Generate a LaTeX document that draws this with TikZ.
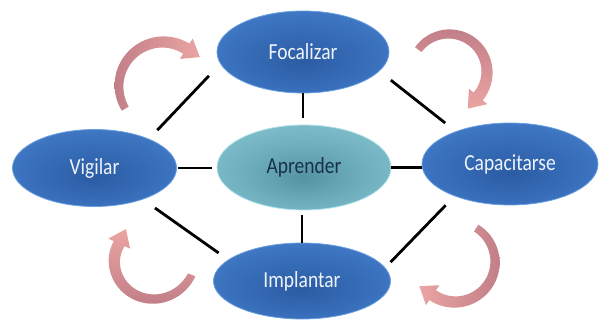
\documentclass[tikz,border=0pt]{standalone}
\usepackage{fontspec}
\usepackage{graphicx}
\setmainfont{Carlito}
\usetikzlibrary{shapes.geometric}

% palette
\definecolor{bluedark}{HTML}{2B5CA3}
\definecolor{bluemid}{HTML}{376DB9}
\definecolor{bluelight}{HTML}{4A85D0}
\definecolor{bluerim}{HTML}{6A9FE0}
\definecolor{tealdark}{HTML}{5593A2}
\definecolor{tealmid}{HTML}{70B0BE}
\definecolor{teallight}{HTML}{8BC8D4}
\definecolor{tealrim}{HTML}{B2E2EA}
\definecolor{arrowlight}{HTML}{EAA4A2}
\definecolor{arrowdark}{HTML}{C27F88}
\definecolor{labelwhite}{HTML}{EEF3FA}
\definecolor{labeldark}{HTML}{17324A}

\pgfdeclareradialshading{bluefill}{\pgfpoint{0bp}{-6bp}}{%
  color(0bp)=(bluedark); color(18bp)=(bluemid); color(40bp)=(bluelight);
  color(47bp)=(bluerim); color(50bp)=(bluerim)}
\pgfdeclareradialshading{tealfill}{\pgfpoint{0bp}{-6bp}}{%
  color(0bp)=(tealdark); color(18bp)=(tealmid); color(40bp)=(teallight);
  color(47bp)=(tealrim); color(50bp)=(tealrim)}

% label text, slightly stretched vertically
\newcommand\stagetext[1]{\scalebox{1}[1.18]{#1}}

% curved block arrow around (cx,cy):
% #2 cx, #3 cy, #4 radius at tail, #5 radius at head, #6 start angle, #7 end angle
\def\arrwa{8}\def\arrwb{12}\def\arrhw{12}\def\arrhl{16}
\newcommand\bendarrow[7][]{%
  \shade[cyclearrow,#1]
    plot[domain=#6:#7, samples=50, variable=\t]
      ({#2+(#4+(#5-#4)*(\t-(#6))/((#7)-(#6))+(\arrwa+(\arrwb-\arrwa)*(\t-(#6))/((#7)-(#6)))/2)*cos(\t)},
       {#3+(#4+(#5-#4)*(\t-(#6))/((#7)-(#6))+(\arrwa+(\arrwb-\arrwa)*(\t-(#6))/((#7)-(#6)))/2)*sin(\t)})
    -- ({#2+(#5+\arrhw)*cos(#7)}, {#3+(#5+\arrhw)*sin(#7)})
    -- ({#2+#5*cos(#7)-\arrhl*sin(#7)}, {#3+#5*sin(#7)+\arrhl*cos(#7)})
    -- ({#2+(#5-\arrhw)*cos(#7)}, {#3+(#5-\arrhw)*sin(#7)})
    -- plot[domain=#7:#6, samples=50, variable=\t]
      ({#2+(#4+(#5-#4)*(\t-(#6))/((#7)-(#6))-(\arrwa+(\arrwb-\arrwa)*(\t-(#6))/((#7)-(#6)))/2)*cos(\t)},
       {#3+(#4+(#5-#4)*(\t-(#6))/((#7)-(#6))-(\arrwa+(\arrwb-\arrwa)*(\t-(#6))/((#7)-(#6)))/2)*sin(\t)})
    -- cycle;
}

\tikzset{
  stage/.style={ellipse, inner sep=0pt, outer sep=0pt, shade, shading=bluefill,
    draw=bluerim, line width=0.8pt, text=labelwhite,
    font=\fontsize{19.5}{22}\selectfont},
  core/.style={stage, shading=tealfill, draw=tealrim, text=labeldark},
  link/.style={line width=2.8pt, black},
  cyclearrow/.style={left color=arrowdark, right color=arrowlight},
}

\begin{document}
\begin{tikzpicture}[x=1pt, y=-1pt]
\useasboundingbox (0,0) rectangle (599,320);

% the five stages
\node[core,  minimum width=174pt, minimum height=85pt] (apr) at (304,167.5) {\stagetext{Aprender}};
\node[stage, minimum width=172pt, minimum height=82pt] (foc) at (303,52)    {\stagetext{Focalizar}};
\node[stage, minimum width=164pt, minimum height=77pt] (vig) at (94.5,168)  {\stagetext{Vigilar}};
\node[stage, minimum width=176pt, minimum height=82pt] (cap) at (510,164)   {\stagetext{Capacitarse}};
\node[stage, minimum width=177pt, minimum height=76pt] (imp) at (302,281)   {\stagetext{Implantar}};

% spokes and rim links
\draw[link, shorten >=7pt] (foc.south) -- (foc.south |- apr.north);
\draw[link, shorten <=5pt] (imp.north |- apr.south) -- (imp.north);
\draw[link, shorten <=1.5pt, shorten >=5pt] (vig.east) -- (vig.east -| apr.west);
\draw[link] (apr.east) -- (apr.east -| cap.west);
\draw[link, shorten <=16.8pt, shorten >=12.4pt] (foc.188) -- (vig.28);
\draw[link, shorten <=14.8pt, shorten >=13.9pt] (foc.346) -- (cap.149);
\draw[link, shorten <=15.2pt, shorten >=12pt]   (vig.327) -- (imp.164);
\draw[link, shorten <=13.1pt, shorten >=7.9pt]  (cap.210) -- (imp.9);

% clockwise cycle arrows
\bendarrow{163}{86}{44}{44}{149}{302}
\bendarrow[top color=arrowdark, bottom color=arrowlight]{449}{72}{38}{38}{216}{400}
\bendarrow[left color=arrowlight, right color=arrowdark]{455}{262}{40}{40}{-58}{124}
\bendarrow[top color=arrowlight, bottom color=arrowdark]{150}{258}{45}{34}{22}{205}
\end{tikzpicture}
\end{document}
